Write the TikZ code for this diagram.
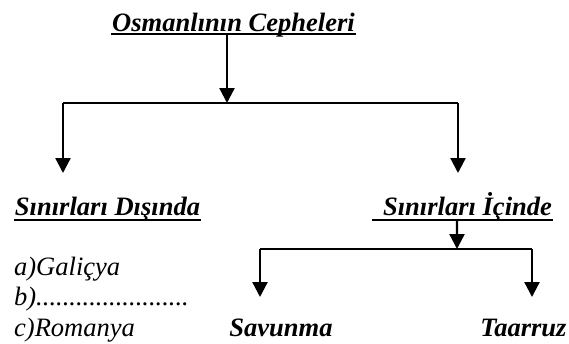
\documentclass[tikz,border=0pt]{standalone}
\usepackage{fontspec}
\setmainfont{Liberation Serif}
\usetikzlibrary{arrows.meta}

\begin{document}
\begin{tikzpicture}[>={Triangle[width=8.5pt,length=8.5pt]}, line width=1.3pt,
  every node/.style={inner sep=0pt, font=\fontsize{15.1pt}{17pt}\selectfont\itshape},
  head/.style={font=\fontsize{15.1pt}{17pt}\selectfont\bfseries\itshape},
  uline/.style={line width=1.3pt}]
\useasboundingbox (0,0) rectangle (11.38,6.86);
% headings
\node[head, anchor=base] (title) at (4.67,6.24) {Osmanlının Cepheleri};
\draw[uline] ([yshift=-1.7pt]title.base west) -- ([yshift=-1.7pt]title.base east);
\node[head, anchor=base] (dis) at (2.15,2.56) {Sınırları Dışında};
\draw[uline] ([yshift=-2.8pt]dis.base west) -- ([yshift=-2.8pt]dis.base east);
\node[head, anchor=base] (ici) at (9.35,2.56) {Sınırları İçinde};
\draw[uline] ([xshift=-0.2cm,yshift=-2.8pt]ici.base west) -- ([yshift=-2.8pt]ici.base east);
\node[head, anchor=base] (sav) at (5.62,0.14) {Savunma};
\node[head, anchor=base] (taa) at (10.47,0.14) {Taarruz};
% list
\node[anchor=base west] (ga) at (0.26,1.36) {a)Galiçya};
\node[anchor=base west] (gb) at (0.26,0.76) {b).......................};
\node[anchor=base west] (gc) at (0.26,0.14) {c)Romanya};
% first fork
\coordinate (top) at (4.54,4.80);
\coordinate (forkL) at (1.26,4.80);
\coordinate (forkR) at (9.16,4.80);
\draw[->] ([xshift=-0.13cm,yshift=-1.7pt]title.base) -- (top);
\draw (forkL) -- (forkR);
\draw[->] (forkL) -- ++(0,-1.40);
\draw[->] (forkR) -- ++(0,-1.40);
% second fork
\coordinate (mid) at (9.14,1.88);
\coordinate (subL) at (5.20,1.88);
\coordinate (subR) at (10.64,1.88);
\draw[->] ([xshift=-0.21cm,yshift=-2.8pt]ici.base) -- (mid);
\draw (subL) -- (subR);
\draw[->] (subL) -- ++(0,-0.96);
\draw[->] (subR) -- ++(0,-0.96);
\end{tikzpicture}
\end{document}
